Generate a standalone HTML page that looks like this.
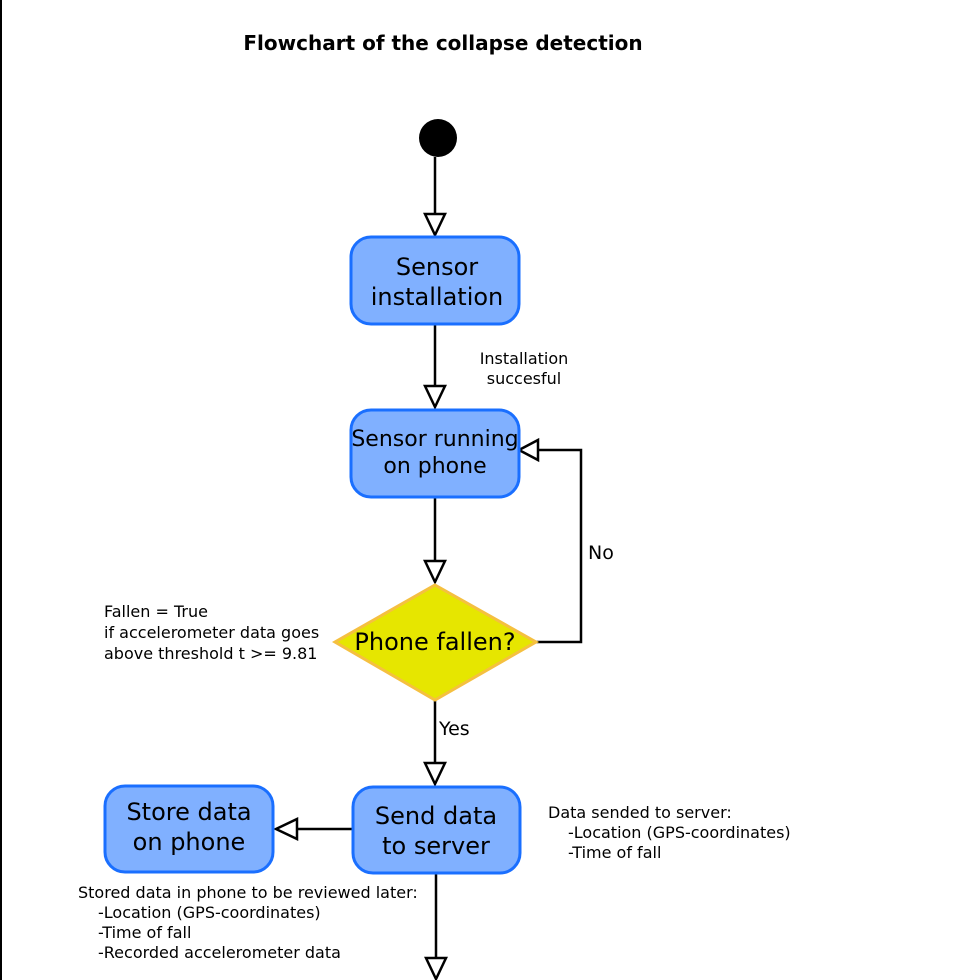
<!DOCTYPE html>
<html><head><style>body{margin:0;background:#fff}svg{display:block}text{font-family:"DejaVu Sans","Liberation Sans",sans-serif;fill:#000}</style></head><body>
<svg width="968" height="980" viewBox="0 0 968 980" xmlns="http://www.w3.org/2000/svg">
<line x1="1" y1="0" x2="1" y2="980" stroke="#000" stroke-width="2"/>
<text x="443" y="50" font-size="20" font-weight="bold" text-anchor="middle">Flowchart of the collapse detection</text>
<circle cx="438" cy="138" r="19" fill="#000"/>
<g stroke="#000" stroke-width="2.5" fill="#fff">
<line x1="435" y1="157" x2="435" y2="214"/><polygon points="425,214 445,214 435,235"/>
<line x1="435" y1="324" x2="435" y2="386"/><polygon points="425,386 445,386 435,407"/>
<line x1="435" y1="497" x2="435" y2="561"/><polygon points="425,561 445,561 435,582"/>
<polyline points="536,642 581,642 581,450 538,450" fill="none"/><polygon points="538,440 538,460 519,450"/>
<line x1="435" y1="700" x2="435" y2="763"/><polygon points="425,763 445,763 435,784"/>
<line x1="353" y1="829" x2="297" y2="829"/><polygon points="297,819 297,839 276,829"/>
<line x1="436" y1="873" x2="436" y2="958"/><polygon points="426,958 446,958 436,979"/>
</g>
<g fill="#80b0ff" stroke="#1a6fff" stroke-width="3">
<rect x="351" y="237" width="168" height="87" rx="20"/>
<rect x="351" y="410" width="168" height="87" rx="20"/>
<rect x="353" y="787" width="167" height="86" rx="20"/>
<rect x="105" y="786" width="168" height="86" rx="20"/>
</g>
<polygon points="435,585 536,642 435,700 335,642" fill="#e6e600" stroke="#f5c040" stroke-width="3"/>
<g font-size="24" text-anchor="middle">
<text x="437" y="275">Sensor</text><text x="437" y="305">installation</text>
<text x="435" y="446" font-size="22">Sensor running</text><text x="435" y="473" font-size="22">on phone</text>
<text x="435" y="650">Phone fallen?</text>
<text x="436" y="824">Send data</text><text x="436" y="854">to server</text>
<text x="189" y="820">Store data</text><text x="189" y="850">on phone</text>
</g>
<g font-size="16" text-anchor="middle"><text x="524" y="364">Installation</text><text x="524" y="384">succesful</text></g>
<text x="588" y="559" font-size="19">No</text>
<text x="439" y="735" font-size="19">Yes</text>
<g font-size="16">
<text x="104" y="617">Fallen = True</text><text x="104" y="638">if accelerometer data goes</text><text x="104" y="659">above threshold t &gt;= 9.81</text>
<text x="548" y="818">Data sended to server:</text><text x="568" y="838">-Location (GPS-coordinates)</text><text x="568" y="858">-Time of fall</text>
<text x="78" y="898">Stored data in phone to be reviewed later:</text><text x="98" y="918">-Location (GPS-coordinates)</text><text x="98" y="938">-Time of fall</text><text x="98" y="958">-Recorded accelerometer data</text>
</g>
</svg>
</body></html>
